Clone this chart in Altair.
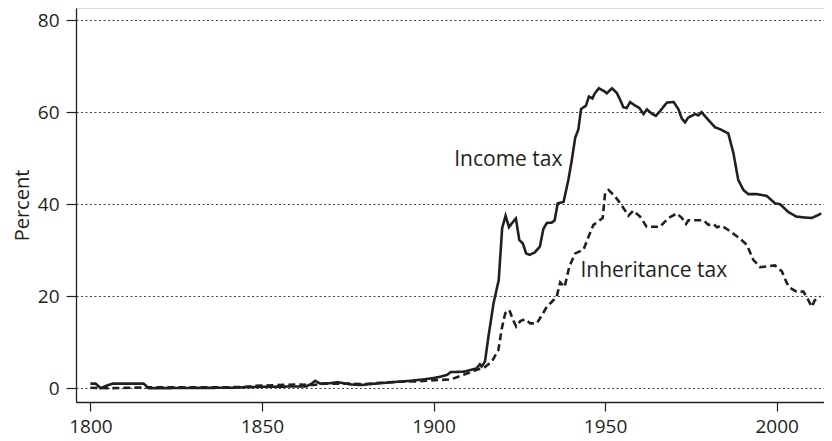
import altair as alt
import pandas as pd

# Top income tax rate (solid)
inc_years = [1800, 1801.5, 1803, 1804.5, 1806.5, 1815.5, 1817, 1841, 1850, 1863, 1864.5, 1865.5,
             1867, 1870, 1872, 1876, 1879, 1883, 1888, 1893, 1897, 1900, 1902, 1904, 1905, 1909,
             1911, 1912.5, 1913.5, 1914, 1915, 1916, 1917.5, 1919, 1920, 1921, 1922, 1923, 1924,
             1925, 1926, 1927, 1928, 1929.5, 1931, 1932, 1933, 1934.5, 1935.3, 1936.2, 1937.9,
             1939.3, 1940.3, 1941.3, 1942.2, 1943, 1944.4, 1945.3, 1946.3, 1947, 1948.2, 1949.7,
             1950.5, 1952, 1953.4, 1954.4, 1955.3, 1956.3, 1957.3, 1958.8, 1960, 1961.2, 1962.2,
             1963.6, 1964.8, 1966.3, 1968, 1970, 1971.4, 1972.3, 1973.3, 1974.2, 1976.2, 1977.2,
             1978.1, 1980.1, 1982.1, 1983.5, 1985.9, 1987.4, 1988.8, 1990.3, 1991.7, 1994.2,
             1997.1, 1999.5, 2001, 2003.4, 2005.8, 2008.3, 2010.2, 2011.7, 2013]
inc_values = [1.0, 1.0, 0.0, 0.5, 1.0, 1.0, 0.0, 0.1, 0.3, 0.4, 1.0, 1.6,
              1.0, 1.1, 1.3, 0.8, 0.7, 1.0, 1.3, 1.6, 1.9, 2.2, 2.5, 2.9, 3.5, 3.6,
              4.0, 4.3, 5.2, 4.7, 5.8, 11.2, 18.5, 23.5, 34.8, 37.5, 35.0, 36.0, 36.9,
              32.2, 31.5, 29.3, 29.0, 29.5, 30.8, 34.6, 35.9, 36.0, 36.5, 40.2, 40.5,
              45.3, 49.6, 54.5, 56.2, 60.7, 61.4, 63.4, 63.0, 64.1, 65.2, 64.6,
              64.1, 65.2, 64.2, 62.7, 61.1, 60.9, 62.2, 61.4, 60.9, 59.6, 60.6,
              59.7, 59.2, 60.5, 62.1, 62.2, 60.6, 58.7, 57.8, 58.8, 59.6, 59.3,
              60.0, 58.3, 56.7, 56.3, 55.4, 51.1, 45.3, 43.1, 42.2, 42.2,
              41.8, 40.2, 40.0, 38.3, 37.3, 37.1, 37.0, 37.5, 38.0]

# Top inheritance tax rate (dashed)
inh_years = [1800, 1805, 1817, 1840, 1845, 1848, 1860, 1865, 1868, 1875, 1880, 1885, 1890, 1896,
             1902, 1905, 1908.7, 1912.6, 1915, 1917, 1918.9, 1919.9, 1920.9, 1922.1, 1923.1,
             1924.1, 1925.3, 1926.7, 1928.2, 1930.1, 1931.6, 1933, 1934.5, 1935.9, 1936.9,
             1938.2, 1939.6, 1941.3, 1943.7, 1945.2, 1946.6, 1948.1, 1949.3, 1950, 1951,
             1952.9, 1954.8, 1956.8, 1958.2, 1960.2, 1962.1, 1966, 1968.5, 1970.9, 1972.4,
             1973.6, 1974.3, 1978.7, 1980.1, 1981.6, 1982.6, 1984, 1985.9, 1987.9, 1989.3,
             1991.3, 1993.2, 1995.2, 1999.5, 2001.5, 2003, 2003.9, 2005.8, 2007.8, 2009.2,
             2010.2, 2011.1, 2012.6]
inh_values = [0.1, 0.0, 0.2, 0.2, 0.3, 0.5, 0.8, 0.7, 1.0, 1.0, 0.9, 1.2, 1.4, 1.5,
              1.8, 1.9, 2.9, 4.0, 4.6, 5.8, 8.3, 13.0, 16.3, 17.0, 15.0,
              13.4, 14.6, 15.0, 14.1, 14.1, 15.9, 17.7, 18.8, 19.9, 23.0,
              22.0, 26.5, 29.3, 30.1, 33.0, 35.5, 36.3, 37.0, 42.4, 43.1,
              41.7, 39.8, 37.5, 38.6, 37.3, 35.1, 35.1, 37.0, 38.0, 37.0,
              35.7, 36.5, 36.5, 35.5, 35.7, 35.0, 35.3, 34.4, 33.3, 32.5,
              31.2, 27.9, 26.3, 26.7, 25.4, 22.8, 21.8, 21.0, 21.0, 19.2,
              17.7, 19.1, 19.9]

series_names = ["Income tax", "Inheritance tax"]
label_years = [1921.8, 1964.2]
label_values = [49.6, 25.5]

x_ticks = [1800, 1850, 1900, 1950, 2000]
y_ticks = [0, 20, 40, 60, 80]

INK = "#231f20"
FONT = "Open Sans"

df = pd.concat([
    pd.DataFrame({"year": inc_years, "value": inc_values, "series": series_names[0]}),
    pd.DataFrame({"year": inh_years, "value": inh_values, "series": series_names[1]}),
])
labels = pd.DataFrame({"year": label_years, "value": label_values, "text": series_names})

xscale = alt.Scale(domain=[1795.8, 2013.8], nice=False, zero=False)
yscale = alt.Scale(domain=[-3.0, 82.65], nice=False, zero=False)

lines = alt.Chart(df).mark_line(color=INK, strokeWidth=2.6, clip=True).encode(
    x=alt.X("year:Q", scale=xscale, axis=alt.Axis(
        values=x_ticks, format="d", title=None, grid=False, tickSize=9, tickWidth=1.2,
        tickColor=INK, domainColor=INK, domainWidth=1.3, labelPadding=6,
        labelFont=FONT, labelFontSize=19, labelColor=INK, labelFlush=False)),
    y=alt.Y("value:Q", scale=yscale, axis=alt.Axis(
        values=y_ticks, title="Percent", grid=True, gridDash=[2, 2.5], gridColor="#444444",
        gridWidth=1, tickSize=10, tickWidth=1.2, tickColor=INK, domainColor=INK,
        domainWidth=1.3, labelPadding=7, labelFont=FONT, labelFontSize=19, labelColor=INK,
        titleFont=FONT, titleFontSize=20, titleFontWeight="normal", titleColor=INK,
        titlePadding=5)),
    strokeDash=alt.StrokeDash("series:N", scale=alt.Scale(domain=series_names,
                              range=[[1, 0], [7, 4]]), legend=None),
    detail="series:N",
)

text = alt.Chart(labels).mark_text(font=FONT, fontSize=21, color=INK, align="center",
                                   baseline="middle").encode(
    x=alt.X("year:Q", scale=xscale),
    y=alt.Y("value:Q", scale=yscale),
    text="text:N",
)

chart = (lines + text).properties(
    width=748, height=394,
    autosize=alt.AutoSizeParams(type="none"),
    padding={"left": 68, "top": 0, "right": 0, "bottom": 38},
).configure_view(stroke=None).configure(background="white")

chart.save("out.html", embed_options={"renderer": "svg", "actions": False})
